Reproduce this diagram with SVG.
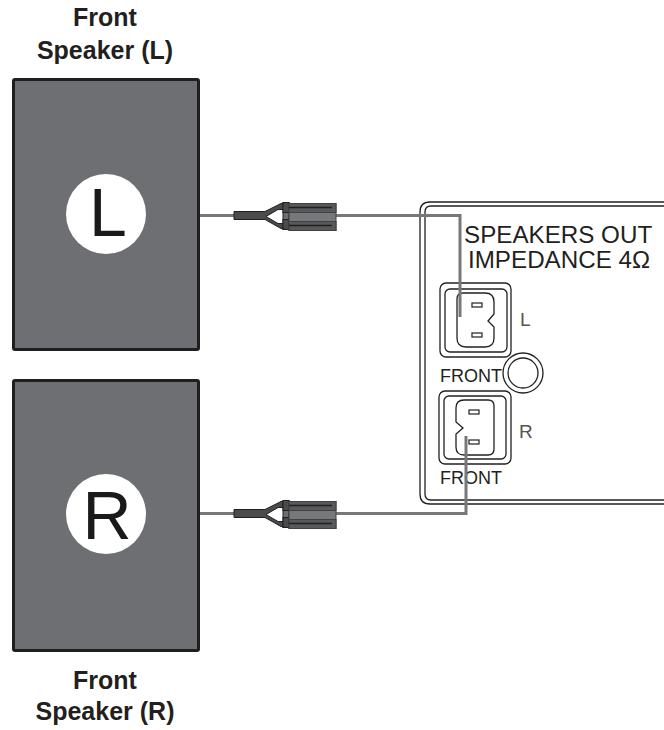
<svg xmlns="http://www.w3.org/2000/svg" width="664" height="730" viewBox="0 0 664 730">
<style>
.spk{fill:#6d6f72;stroke:#1f1f1f;stroke-width:3}
.disc{fill:#fff}
.big{font:68px "Liberation Sans",Arial,sans-serif;fill:#1a1a1a;text-anchor:middle}
.title{font:bold 25px "Liberation Sans",Arial,sans-serif;fill:#231f20;text-anchor:middle}
.lbl{font:24.200px "Liberation Sans",Arial,sans-serif;fill:#231f20}
.sm{font:18px "Liberation Sans",Arial,sans-serif;fill:#231f20}
.thin{font:19px "Liberation Sans",Arial,sans-serif;fill:#555}
.ln{fill:none;stroke:#231f20;stroke-width:1.300}
.wire{fill:none;stroke:#77787b;stroke-width:3}
.sl{fill:#fff;stroke:#231f20;stroke-width:1.200}
</style>
<defs>
<g id="plug">
<path d="M200 0H234M336 0H345" class="wire"/>
<path d="M234 -4H265L281 -12H284V-6H278L266 1L278 8H284V13H281L265 4H234Z" fill="#4a4b4d" stroke="#231f20" stroke-width="1"/>
<rect x="283" y="-13" width="6" height="27" fill="#6d6e71" stroke="#231f20" stroke-width="1"/>
<rect x="283" y="-13" width="6" height="10" fill="#4a4b4d" stroke="#231f20" stroke-width="1"/>
<rect x="283" y="4" width="6" height="10" fill="#4a4b4d" stroke="#231f20" stroke-width="1"/>
<rect x="289" y="-12" width="47" height="27" fill="#77787b" stroke="#414042" stroke-width="1"/>
<rect x="289" y="-12" width="47" height="9" fill="#58595b" stroke="#414042" stroke-width="1"/>
<rect x="289" y="6" width="47" height="9" fill="#58595b" stroke="#414042" stroke-width="1"/>
<path d="M289 -8H332M289 10H332" stroke="#231f20" stroke-width="1.500" fill="none"/>
</g>
</defs>

<g id="speaker-l">
<rect class="spk" x="13.500" y="79.500" width="185" height="270" rx="1.500"/>
<circle class="disc" cx="106" cy="214" r="40"/>
<text class="big" x="108" y="236">L</text>
<text class="title" x="105" y="26">Front</text>
<text class="title" x="105" y="59">Speaker (L)</text>
</g>
<g id="speaker-r">
<rect class="spk" x="13.500" y="380.500" width="185" height="270" rx="1.500"/>
<circle class="disc" cx="106" cy="514" r="40"/>
<text class="big" x="107" y="539">R</text>
<text class="title" x="105" y="689">Front</text>
<text class="title" x="105" y="720">Speaker (R)</text>
</g>

<g id="panel">
<path class="ln" d="M664 202H430Q420 202 420 212V494Q420 504 430 504H664"/>
<path class="ln" d="M664 206H431Q425 206 425 212V494Q425 500 431 500H664"/>
<text class="lbl" x="464" y="243">SPEAKERS OUT</text>
<text class="lbl" x="468" y="268">IMPEDANCE 4Ω</text>
<circle class="ln" cx="523" cy="373" r="20"/>
<circle class="ln" cx="523" cy="373" r="15"/>
</g>

<g id="socket-l">
<rect class="ln" x="440" y="283" width="71" height="74" rx="6"/>
<rect class="ln" x="445" y="289" width="62" height="63" rx="5"/>
<path class="ln" d="M463 293H485Q494 293 494 302V314L488 321L494 327V338Q494 347 485 347H466Q457 347 457 338V299Q457 293 463 293Z"/>
<rect class="sl" x="472" y="303" width="10" height="4"/>
<rect class="sl" x="472" y="333" width="10" height="4"/>
<text class="thin" x="520" y="326">L</text>
<text class="sm" x="440" y="382">FRONT</text>
</g>

<g id="socket-r">
<rect class="ln" x="439" y="391" width="72" height="73" rx="6"/>
<rect class="ln" x="444" y="396" width="62" height="63" rx="5"/>
<path class="ln" d="M464 400H488Q494 400 494 406V449Q494 455 488 455H464Q456 455 456 447V434L463 428L456 422V408Q456 400 464 400Z"/>
<rect class="sl" x="469" y="410" width="10" height="4"/>
<rect class="sl" x="469" y="440" width="10" height="4"/>
<text class="thin" x="519" y="438">R</text>
<text class="sm" x="440" y="484">FRONT</text>
</g>

<g id="connectors">
<path class="wire" d="M345 215.500H460V317"/>
<path class="wire" d="M345 513.500H466V436"/>
<use href="#plug" y="215.500"/>
<use href="#plug" y="513.500"/>
</g>
</svg>
